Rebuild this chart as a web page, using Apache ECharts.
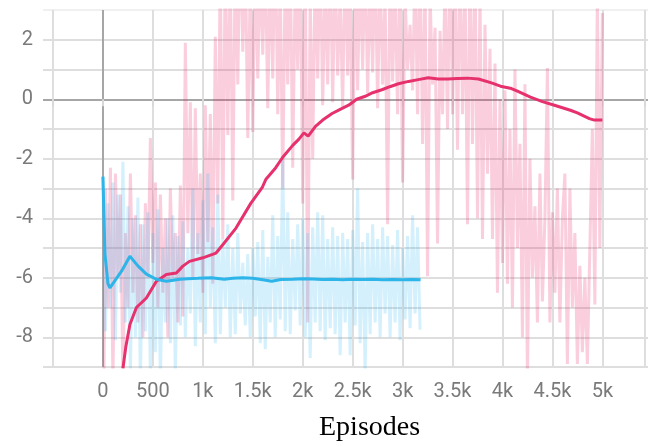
<!DOCTYPE html>
<html>
<head>
<meta charset="utf-8">
<script src="https://cdn.jsdelivr.net/npm/echarts@6/dist/echarts.min.js"></script>
<style>html,body{margin:0;padding:0;background:#fff;}#c{width:648px;height:447px;}</style>
</head>
<body>
<div id="c"></div>
<script>
// ---- data ----
const xTickValues = [0, 500, 1000, 1500, 2000, 2500, 3000, 3500, 4000, 4500, 5000];
const yTickLabels = [-8, -6, -4, -2, 0, 2];
const rawStep = 25; // episodes between raw samples

const pinkRaw = [
 -14, -3.0, -7, -2.3, -9.5, -2.5, -6, -3.2, -9.5, -4.5, -7, -2.5, -6.5, -3.9, -7.5, -4.2, -8, -3.5, -6, -1.3,
 -5.5, -2.8, -7, -3.2, -6.5, -4, -8, -3, -6, -4.5, -7.5, -2.9, -7.3, 1.9, -4.5, -0.1, -6, -0.3, -5.2, -2.5,
 -6.5, -0.2, -4.8, -0.5, -6.2, 2.1, -3.5, 4.5, -4.7, 5, -1.2, 4.5, -3.4, 5, 0.5, 6, 1.6, 5, -1.3, 4,
 -1.1, 5, 0.7, 4.5, 1.5, 5, -0.3, 4.5, 0.7, 6, -0.5, 4, -3.0, 4.5, 0.5, 5, -2.3, 4, 1.0, 5,
 -3.5, 5, -7.5, 3.5, -2, 4.5, 0.7, 5, -0.2, 4, 0.5, 5, -0.1, 4.5, 0.8, 3.5, -0.3, 5, 0.8, 4,
 -2.7, 5, 0.3, 4.5, 1.0, 5, 0.2, 4, 0.9, 5, -0.3, 4.5, 0.5, 3.5, -4.2, 5, 0.6, 4, -0.5, 4.5,
 -2.8, 3.5, 1.0, 2.5, 0.3, 4.5, -0.5, 5, -1.5, 4, -5.95, 3.5, 0.5, 2.4, -4.85, 2.3, -0.5, 4, -1, 5,
 -0.5, 4.5, -1.7, 5, -0.5, 4, -4.2, 5, -1.5, 4.5, -4.0, 3.5, -4.7, 2.5, -2.5, 1.7, -4.7, 1.2, -6.5, 0,
 -5.5, 0.3, -6.2, -1, -7, 1.0, -5, -1.5, -8, 0.5, -9.5, -2, -6, -3.6, -7.5, -2.5, -6.8, -4, 1.05, -7.5,
 -3.8, -6.5, -3, -7.5, -4, -2.5, -8.9, -3, -7, -4.5, -8.9, -5.6, -8.5, -6, -8.9, -5, -1, -6.9, 3.5, -5,
 2.9
];

const blueRaw = [
 -2.6, -7.8, -3.5, -7, -2.8, -8.1, -3.2, -6.5, -2.1, -7.5, -3.6, -9.2, -4.0, -8, -3.3, -9.5, -4.2, -7.8, -3.8, -9.3,
 -4.5, -8.5, -3.7, -9.5, -5, -7.5, -4, -8.2, -3.9, -9.2, -4.6, -7.6, -4.1, -8, -5, -7.2, -3.0, -8.3, -4.5, -7.5,
 -3.4, -7.9, -2.5, -7, -4.3, -8.2, -3.2, -7.9, -4.7, -7, -4.2, -8, -5, -7.9, -4.5, -7.2, -5.5, -7.6, -5.2, -8.0,
 -5.0, -7.3, -4.8, -8.2, -4.4, -8.4, -5.3, -7.5, -3.9, -8.0, -4.6, -7.4, -2.0, -7.8, -3.8, -7.9, -4.7, -7.1, -4.2, -7.6,
 -4.0, -8.0, -4.5, -8.7, -4.3, -7.5, -3.8, -7.8, -3.9, -8.1, -4.7, -7.7, -4.3, -7.9, -4.6, -8.6, -4.5, -7.5, -4.7, -8.6,
 -4.4, -7.6, -3.0, -8.2, -4.8, -9.2, -4.5, -7.9, -4.2, -7.5, -4.7, -8, -4.3, -7.2, -4.6, -8.0, -4.9, -7.5, -4.4, -8.1,
 -5, -7.4, -4.6, -7.7, -3.9, -7.2, -4.3, -7.75
];

const pinkSmooth = [
 [200,-9.05],[230,-8.3],[270,-7.57],[335,-7.0],[435,-6.68],[535,-6.12],[635,-5.89],[735,-5.84],[800,-5.61],[866,-5.45],
 [1000,-5.33],[1132,-5.17],[1200,-4.89],[1332,-4.33],[1480,-3.5],[1597,-2.95],[1630,-2.7],[1730,-2.3],[1800,-1.95],[1900,-1.55],
 [1960,-1.35],[2012,-1.13],[2055,-1.24],[2128,-0.91],[2200,-0.7],[2294,-0.48],[2380,-0.33],[2460,-0.2],[2540,0.0],[2626,0.1],
 [2700,0.22],[2792,0.32],[2880,0.43],[2958,0.52],[3060,0.6],[3157,0.66],[3257,0.72],[3357,0.68],[3450,0.68],[3550,0.7],
 [3650,0.71],[3760,0.68],[3890,0.55],[3980,0.44],[4090,0.36],[4150,0.27],[4280,0.07],[4400,-0.08],[4520,-0.2],[4680,-0.37],
 [4750,-0.46],[4870,-0.65],[4920,-0.7],[5000,-0.7]
];

const blueSmooth = [
 [0,-2.6],[20,-5.2],[50,-6.2],[70,-6.34],[120,-6.1],[186,-5.78],[270,-5.28],[350,-5.6],[435,-5.88],[535,-6.05],
 [635,-6.12],[770,-6.05],[850,-6.03],[950,-6.02],[1085,-6.0],[1215,-6.05],[1300,-6.02],[1400,-6.0],[1500,-6.02],[1600,-6.07],
 [1690,-6.12],[1780,-6.06],[1900,-6.05],[2000,-6.03],[2100,-6.04],[2200,-6.06],[2300,-6.05],[2400,-6.07],[2500,-6.05],[2600,-6.06],
 [2700,-6.05],[2800,-6.07],[2900,-6.06],[3000,-6.07],[3100,-6.06],[3180,-6.07]
];

const xAxisTitle = 'Episodes';

// ---- build ----
const toPairs = arr => arr.map((v, i) => [i * rawStep, v]);

const vColors = ['#dedede', '#a6a6a6'];
for (let i = 0; i < 12; i++) vColors.push('#dedede');
const hColors = [];
for (let v = -9; v <= 3; v++) hColors.push(v === 0 ? '#a6a6a6' : (v === 3 ? '#f0f0f0' : '#dedede'));

const labelFont = 'Roboto';
const chart = echarts.init(document.getElementById('c'), null, {renderer: 'canvas'});
chart.setOption({
  animation: false,
  title: {
    text: xAxisTitle, left: 314, top: 409,
    textStyle: {fontFamily: 'Liberation Serif', fontSize: 28, fontWeight: 'normal', color: '#000'}
  },
  grid: [
    {left: 53, right: 0, top: 10, height: 357, containLabel: false},
    {left: 43, right: 0, top: 10, height: 357, containLabel: false}
  ],
  xAxis: [
    {
      type: 'value', gridIndex: 0, min: -500, max: 5427, interval: 500,
      axisLine: {show: false},
      axisTick: {show: true, length: 7, lineStyle: {color: '#d8d8d8', width: 2}},
      splitLine: {show: true, lineStyle: {color: vColors, width: 2}},
      axisLabel: {
        margin: 15, color: '#7a7a7a', fontFamily: labelFont, fontSize: 20,
        formatter: v => (xTickValues.indexOf(v) < 0 ? '' : (v >= 1000 ? (v / 1000) + 'k' : String(v)))
      }
    },
    {
      type: 'value', gridIndex: 1, min: 0, max: 1, show: false
    }
  ],
  yAxis: [
    {
      type: 'value', gridIndex: 0, min: -9, max: 3, interval: 1,
      axisLine: {show: false}, axisTick: {show: false}, axisLabel: {show: false}, splitLine: {show: false}
    },
    {
      type: 'value', gridIndex: 1, min: -9, max: 3, interval: 1,
      axisLine: {show: false}, axisTick: {show: false},
      splitLine: {show: true, lineStyle: {color: hColors, width: 2}},
      axisLabel: {
        margin: 10, color: '#7a7a7a', fontFamily: labelFont, fontSize: 20,
        formatter: v => (yTickLabels.indexOf(v) < 0 ? '' : String(v))
      }
    }
  ],
  series: [
    {type: 'line', xAxisIndex: 0, yAxisIndex: 0, data: toPairs(pinkRaw), symbol: 'none', clip: true,
     lineStyle: {color: 'rgba(233,30,99,0.22)', width: 3, join: 'miter'}, z: 2},
    {type: 'line', xAxisIndex: 0, yAxisIndex: 0, data: toPairs(blueRaw), symbol: 'none', clip: true,
     lineStyle: {color: 'rgba(41,182,246,0.2)', width: 3, join: 'miter'}, z: 3},
    {type: 'line', xAxisIndex: 0, yAxisIndex: 0, data: pinkSmooth, symbol: 'none', clip: true,
     lineStyle: {color: '#e6316d', width: 3}, z: 4},
    {type: 'line', xAxisIndex: 0, yAxisIndex: 0, data: blueSmooth, symbol: 'none', clip: true,
     lineStyle: {color: '#2db4e8', width: 3}, z: 5}
  ]
});
</script>
</body>
</html>
